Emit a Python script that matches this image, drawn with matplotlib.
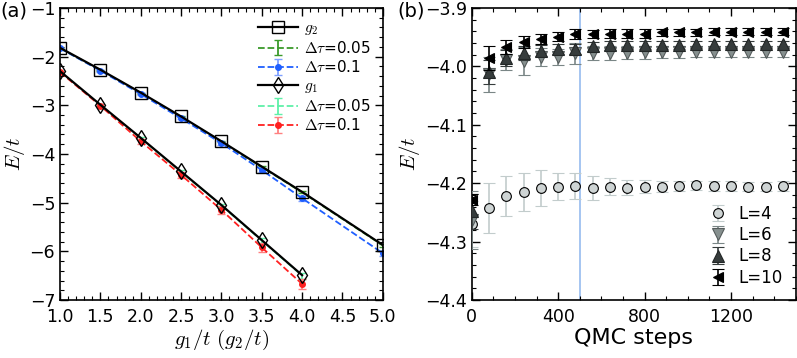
import numpy as np
import matplotlib
matplotlib.use("Agg")
import matplotlib.pyplot as plt
from matplotlib.ticker import MultipleLocator

plt.rcParams['mathtext.fontset'] = 'cm'
plt.rcParams['font.family'] = 'DejaVu Sans'

# ---- panel (a) data ----
g2_x = [1.0, 1.5, 2.0, 2.5, 3.0, 3.5, 4.0, 5.0]
g2_E = [-1.82, -2.27, -2.74, -3.23, -3.74, -4.26, -4.78, -5.87]
g2_dt005 = [-1.83, -2.28, -2.75, -3.24, -3.75, -4.27, -4.79, -5.88]
g2_dt005_err = [0.01, 0.01, 0.01, 0.01, 0.01, 0.02, 0.02, 0.03]
g2_dt01 = [-1.83, -2.29, -2.77, -3.27, -3.78, -4.33, -4.91, -6.04]
g2_dt01_err = [0.01, 0.02, 0.02, 0.02, 0.03, 0.04, 0.05, 0.05]

g1_x = [1.0, 1.5, 2.0, 2.5, 3.0, 3.5, 4.0]
g1_E = [-2.30, -2.99, -3.67, -4.36, -5.05, -5.77, -6.49]
g1_dt005 = [-2.31, -3.00, -3.68, -4.37, -5.06, -5.78, -6.50]
g1_dt005_err = [0.01, 0.02, 0.03, 0.03, 0.04, 0.05, 0.06]
g1_dt01 = [-2.32, -3.01, -3.74, -4.43, -5.15, -5.92, -6.67]
g1_dt01_err = [0.02, 0.03, 0.05, 0.06, 0.09, 0.10, 0.10]

# ---- panel (b) data ----
steps = np.arange(0, 1441, 80)
L4 = [-4.27, -4.243, -4.222, -4.215, -4.208, -4.206, -4.205, -4.208, -4.206, -4.208,
      -4.206, -4.206, -4.205, -4.204, -4.205, -4.205, -4.206, -4.206, -4.205]
L4_err = [0.04, 0.043, 0.035, 0.032, 0.031, 0.023, 0.022, 0.02, 0.015, 0.013,
          0.011, 0.009, 0.009, 0.008, 0.008, 0.008, 0.008, 0.008, 0.008]
L6 = [-4.263, -4.014, -3.989, -3.991, -3.984, -3.984, -3.978, -3.977, -3.977, -3.977,
      -3.976, -3.976, -3.975, -3.975, -3.975, -3.975, -3.975, -3.975, -3.975]
L6_err = [0.05, 0.03, 0.018, 0.024, 0.016, 0.013, 0.018, 0.012, 0.012, 0.011,
          0.011, 0.01, 0.01, 0.009, 0.009, 0.009, 0.009, 0.009, 0.009]
L8 = [-4.248, -4.010, -3.986, -3.978, -3.973, -3.970, -3.970, -3.966, -3.964, -3.963,
      -3.963, -3.963, -3.963, -3.962, -3.962, -3.962, -3.962, -3.962, -3.962]
L8_err = [0.03, 0.02, 0.014, 0.012, 0.01, 0.009, 0.009, 0.008, 0.008, 0.007,
          0.007, 0.007, 0.007, 0.006, 0.006, 0.006, 0.006, 0.006, 0.006]
L10 = [-4.228, -3.986, -3.967, -3.958, -3.953, -3.949, -3.945, -3.945, -3.944, -3.944,
       -3.944, -3.942, -3.942, -3.942, -3.941, -3.941, -3.941, -3.941, -3.941]
L10_err = [0.01, 0.02, 0.012, 0.01, 0.009, 0.008, 0.008, 0.007, 0.007, 0.007,
           0.007, 0.006, 0.006, 0.006, 0.006, 0.006, 0.006, 0.006, 0.006]
vline_step = 500

fig = plt.figure(figsize=(7.97, 3.58), dpi=100)
ax1 = fig.add_axes([0.0753, 0.162, 0.405, 0.816])
ax2 = fig.add_axes([0.592, 0.162, 0.4065, 0.816])


def style_ticks(ax):
    ax.tick_params(which='both', direction='in', top=True, right=True, labelsize=12.5)
    ax.tick_params(which='major', length=6, width=1)
    ax.tick_params(which='minor', length=3, width=0.8)
    ax.tick_params(axis='x', pad=6)
    for s in ax.spines.values():
        s.set_linewidth(1.2)


# panel (a)
h_g2, = ax1.plot(g2_x, g2_E, '-', color='black', lw=1.6, marker='s', ms=8,
                 mfc='none', mec='black', mew=1, label=r'$g_2$', zorder=3)
h_g2a = ax1.errorbar(g2_x, g2_dt005, yerr=g2_dt005_err, fmt='--', color='#3a9a2a',
                     ecolor='#3a9a2a', lw=1.3, capsize=3, label=r'$\Delta\tau$=0.05', zorder=2)
h_g2b = ax1.errorbar(g2_x, g2_dt01, yerr=g2_dt01_err, fmt='--', marker='o', ms=4,
                     color='#1f5fff', ecolor='#7fa0ff', lw=1.3, capsize=3,
                     label=r'$\Delta\tau$=0.1', zorder=2)
h_g1, = ax1.plot(g1_x, g1_E, '-', color='black', lw=1.6, marker='d', ms=8,
                 mfc='none', mec='black', mew=1, label=r'$g_1$', zorder=3)
h_g1a = ax1.errorbar(g1_x, g1_dt005, yerr=g1_dt005_err, fmt='--', color='#5ef0a8',
                     ecolor='#5ef0a8', lw=1.3, capsize=3, label=r'$\Delta\tau$=0.05', zorder=2)
h_g1b = ax1.errorbar(g1_x, g1_dt01, yerr=g1_dt01_err, fmt='--', marker='o', ms=4,
                     color='#ff2020', ecolor='#ff8080', lw=1.3, capsize=3,
                     label=r'$\Delta\tau$=0.1', zorder=2)

ax1.set_xlim(1.0, 5.0)
ax1.set_ylim(-7, -1)
ax1.xaxis.set_major_locator(MultipleLocator(0.5))
ax1.xaxis.set_minor_locator(MultipleLocator(0.1))
ax1.yaxis.set_major_locator(MultipleLocator(1))
ax1.yaxis.set_minor_locator(MultipleLocator(0.2))
style_ticks(ax1)
ax1.set_xlabel(r'$g_1/t\ (g_2/t)$', fontsize=15, labelpad=1)
ax1.set_ylabel(r'$E/t$', fontsize=15, labelpad=2)
handles = [h_g2, h_g2a, h_g2b, h_g1, h_g1a, h_g1b]
ax1.legend(handles, [h.get_label() for h in handles], loc='upper right',
           frameon=False, fontsize=11, handlelength=2.6, handletextpad=0.4,
           labelspacing=0.2, borderaxespad=0.4)

# panel (b)
ax2.axvline(vline_step, color='#9ec0f0', lw=1.3, zorder=1)
ax2.errorbar(steps, L4, yerr=L4_err, fmt='o', ms=7, mfc='#ced4d4', mec='black',
             mew=0.8, ecolor='#c2cccc', elinewidth=1.2, capsize=4, label='L=4', zorder=2)
ax2.errorbar(steps, L6, yerr=L6_err, fmt='v', ms=8, mfc='#86908f', mec='#555c5c',
             mew=0.8, ecolor='#7a8686', elinewidth=1.2, capsize=4, label='L=6', zorder=3)
ax2.errorbar(steps, L8, yerr=L8_err, fmt='^', ms=8, mfc='#363c3c', mec='#222626',
             mew=0.8, ecolor='#363c3c', elinewidth=1.2, capsize=4, label='L=8', zorder=4)
ax2.errorbar(steps, L10, yerr=L10_err, fmt='<', ms=7.5, mfc='black', mec='black',
             mew=0.8, ecolor='black', elinewidth=1.2, capsize=4, label='L=10', zorder=5)

ax2.set_xlim(0, 1500)
ax2.set_ylim(-4.4, -3.9)
ax2.xaxis.set_major_locator(MultipleLocator(400))
ax2.xaxis.set_minor_locator(MultipleLocator(100))
ax2.yaxis.set_major_locator(MultipleLocator(0.1))
ax2.yaxis.set_minor_locator(MultipleLocator(0.02))
style_ticks(ax2)
ax2.set_xlabel('QMC steps', fontsize=16, labelpad=1)
ax2.set_ylabel(r'$E/t$', fontsize=15, labelpad=2)
ax2.legend(loc='lower right', frameon=False, fontsize=12, handlelength=1.2,
           handletextpad=0.6, labelspacing=0.2, borderaxespad=0.4)

fig.text(0.0, 0.955, '(a)', fontsize=14)
fig.text(0.499, 0.955, '(b)', fontsize=14)

fig.savefig('out.png', dpi=100)
